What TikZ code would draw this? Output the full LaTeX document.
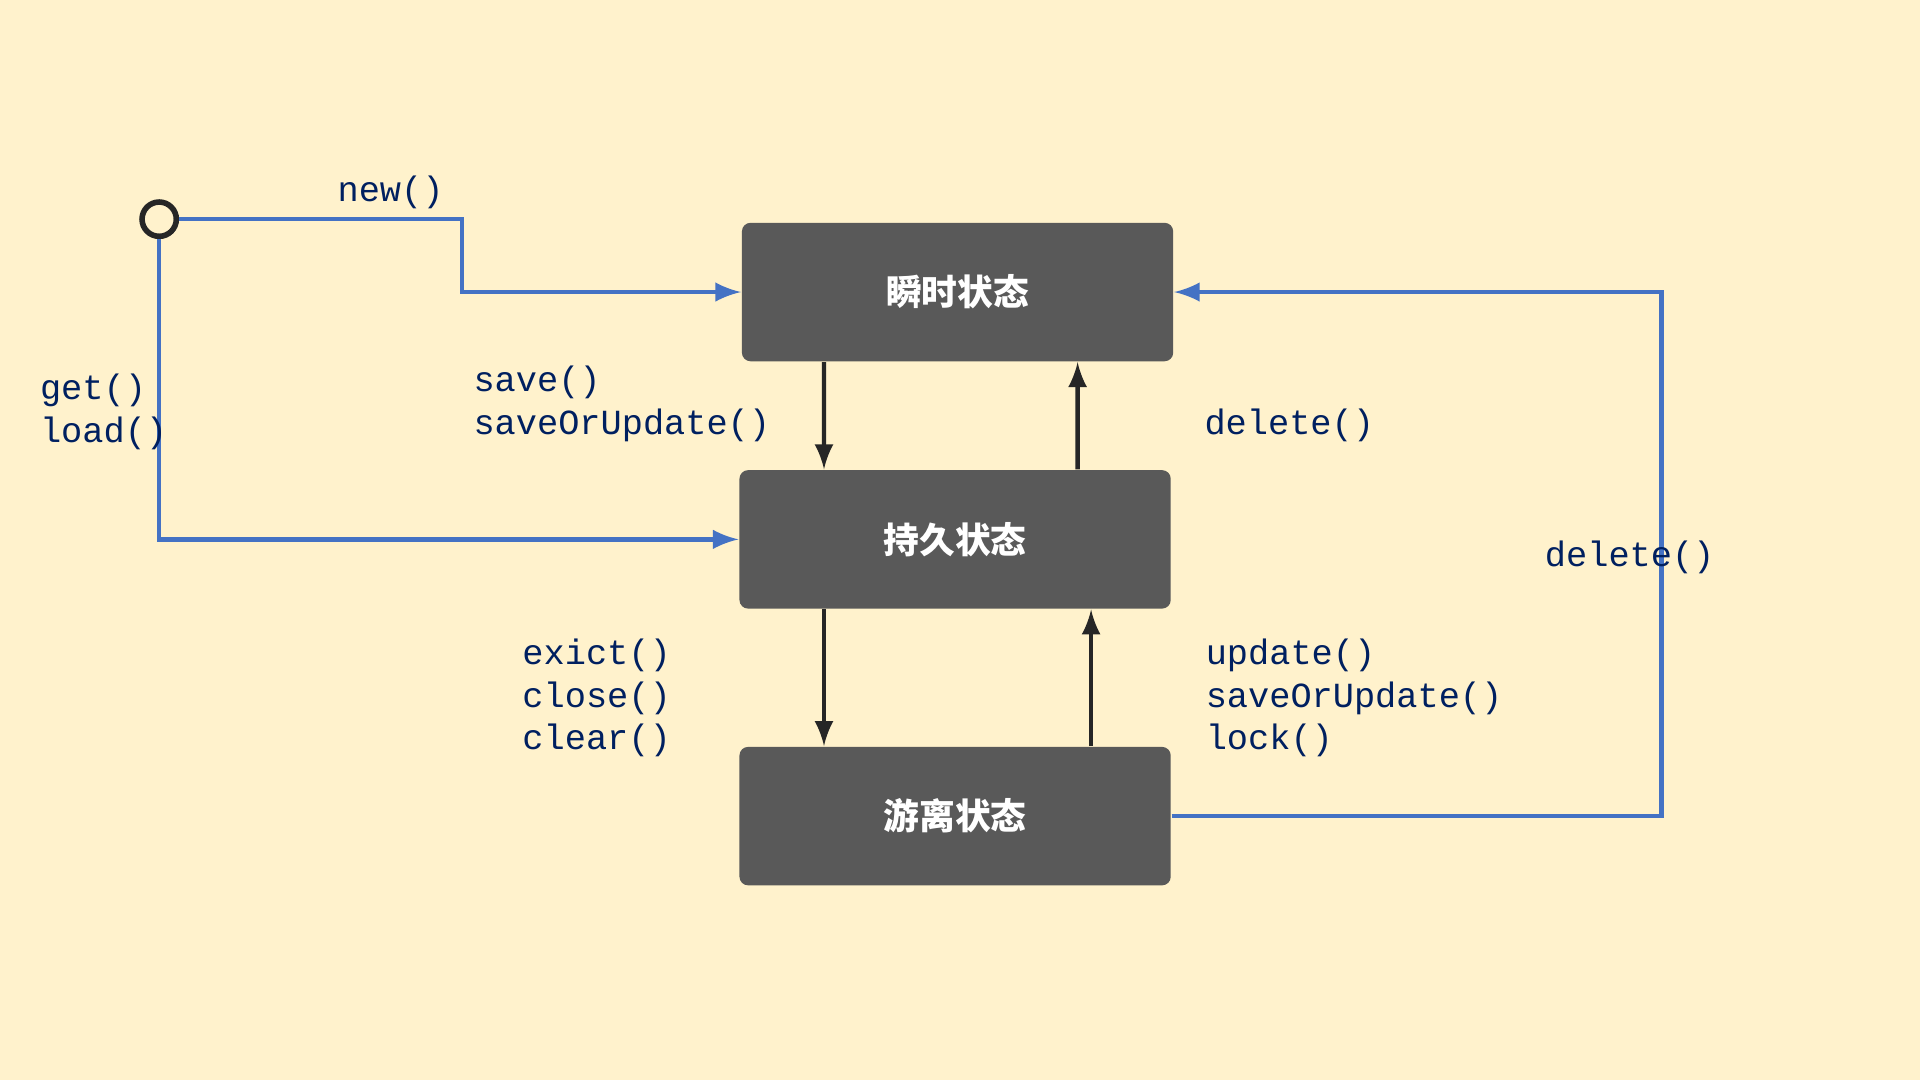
\documentclass[tikz,border=0pt]{standalone}
\usepackage{fontspec}
\setmonofont{Liberation Mono}
\newfontfamily\cjk{Noto Sans CJK SC}
\usetikzlibrary{arrows,positioning}
\definecolor{paper}{HTML}{FFF2CC}
\definecolor{boxgray}{HTML}{595959}
\definecolor{flowblue}{HTML}{4472C4}
\definecolor{ink}{HTML}{002060}
\definecolor{dark}{HTML}{262626}

\begin{document}
\begin{tikzpicture}[x=0.01cm,y=-0.01cm,
    state/.style={draw=none,fill=boxgray,rounded corners=2pt,
      minimum width=3.52cm,minimum height=1.13cm,
      text=white,font=\cjk\bfseries\fontsize{8.3pt}{10pt}\selectfont},
    lbl/.style={anchor=west,inner sep=0pt,align=left,text=ink,
      font=\ttfamily\fontsize{8.2pt}{9.96pt}\selectfont},
    flow/.style={draw=flowblue,line width=1.05pt,-latex},
    link/.style={draw=dark,line width=1pt,-latex}]
  \fill [paper] (0,0) rectangle (1568,882);

  \node [circle,draw=dark,line width=1.3pt,minimum size=0.28cm,inner sep=0pt]
    (start) at (130,179) {};
  \node [state] (s1) at (782,238.5) {瞬时状态};
  \node [state] (s2) at (780,440.5) {持久状态};
  \node [state] (s3) at (780,666.5) {游离状态};

  \draw [flow] (start.east) -- ++(231,0) |- (s1.west);
  \draw [flow] (start.south) |- (s2.west);
  \draw [flow] (s3.east) -- ++(400,0) |- (s1.east);

  \draw [link] ([xshift=-1.09cm]s1.south) -- ([xshift=-1.07cm]s2.north);
  \draw [link] ([xshift=1.00cm]s2.north) -- ([xshift=0.98cm]s1.south);
  \draw [link] ([xshift=-1.07cm]s2.south) -- ([xshift=-1.07cm]s3.north);
  \draw [link] ([xshift=1.11cm]s3.north) -- ([xshift=1.11cm]s2.south);

  \node [lbl] (new) at (275,157) {new()};
  \node [lbl] (get) at (32,336.5) {get()\\load()};
  \node [lbl] (save) at (386,329.5) {save()\\saveOrUpdate()};
  \node [lbl] (del) at (983,347) {delete()};
  \node [lbl] (del2) at (1261,455) {delete()};
  \node [lbl] (evict) at (426,570) {exict()\\close()\\clear()};
  \node [lbl] (upd) at (984,570) {update()\\saveOrUpdate()\\lock()};
\end{tikzpicture}
\end{document}
